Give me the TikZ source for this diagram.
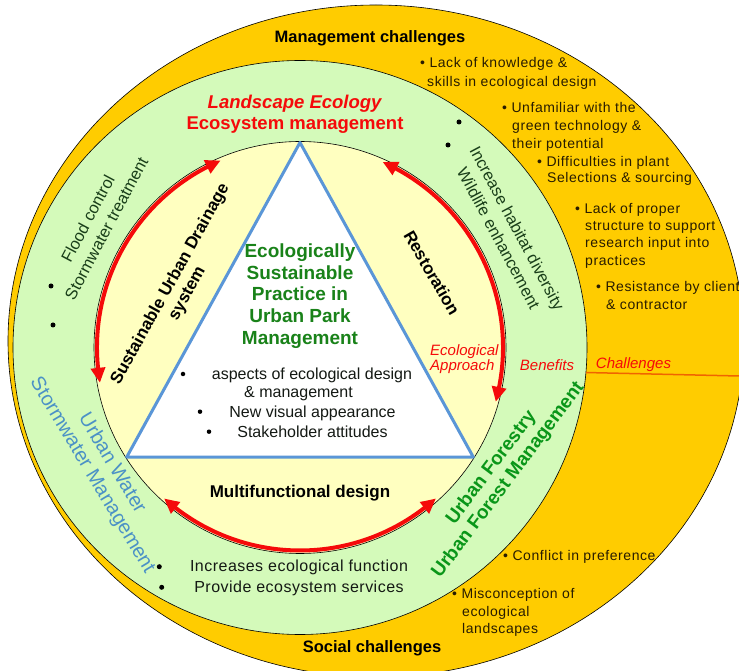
\documentclass[tikz,border=0pt]{standalone}
\usepackage{fontspec}
\setmainfont{Liberation Sans}
\usetikzlibrary{arrows.meta,bending}
\definecolor{orangeC}{RGB}{255,204,0}
\definecolor{lgreen}{RGB}{212,250,186}
\definecolor{pyellow}{RGB}{255,255,192}
\definecolor{triblue}{RGB}{90,150,215}
\definecolor{redC}{RGB}{245,10,10}
\definecolor{centergreen}{RGB}{25,130,25}
\definecolor{forestgreen}{RGB}{10,150,25}
\definecolor{darkgreentext}{RGB}{25,62,25}
\definecolor{waterblue}{RGB}{75,145,198}
\definecolor{challine}{RGB}{240,100,0}
\definecolor{bandtext}{RGB}{40,28,0}
\definecolor{bodytext}{RGB}{20,25,20}
\tikzset{
  band/.style={font=\fontsize{14}{17}\selectfont\addfontfeature{LetterSpace=4}, text=bandtext, anchor=base west, inner sep=0pt},
  trib/.style={font=\fontsize{16}{19}\selectfont, text=bodytext, anchor=base, inner sep=0pt},
  gband/.style={font=\fontsize{16}{19}\selectfont\addfontfeature{LetterSpace=3}, text=bodytext, anchor=base, inner sep=0pt},
  heading/.style={font=\bfseries\fontsize{16.5}{19}\selectfont, text=black, inner sep=0pt},
  redital/.style={font=\itshape\fontsize{15}{15}\selectfont, text=redC, inner sep=0pt},
  dot/.style={circle, fill=black, inner sep=0pt, minimum size=5pt},
  redarc/.style={draw=redC, line width=4pt, arrows={Triangle[length=15pt,width=14pt,bend]-Triangle[length=15pt,width=14pt,bend]}},
  tri/.style={draw=triblue, line width=3pt, fill=white, line join=round}
}
\begin{document}
\begin{tikzpicture}[x=1pt,y=1pt]
\useasboundingbox (0,0) rectangle (739,670);
\clip (0,0) rectangle (739,670);
% outer orange band
\draw[fill=orangeC, line width=0.6pt] (376,329) ellipse [x radius=368, y radius=336];
% rings
\node[circle, draw=black, line width=0.6pt, fill=lgreen, minimum size=574pt, inner sep=0pt, outer sep=0pt] (ring) at (300,322.5) {};
\node[circle, draw=black, line width=0.6pt, fill=pyellow, minimum size=412pt, inner sep=0pt, outer sep=0pt] (core) at (300,322.5) {};
% challenges divider
\coordinate (chEnd) at (739,294);
\draw[challine, line width=1.5pt] (ring.-5.7) -- (chEnd);
% triangle
\coordinate (tA) at ([shift={(90:205)}]core.center);
\coordinate (tB) at ([shift={(212.3:205)}]core.center);
\coordinate (tC) at ([shift={(327.7:205)}]core.center);
\draw[tri] (tA) -- (tB) -- (tC) -- cycle;
% red arrows
\draw[redarc] ([shift={(113:203)}]core.center) arc[start angle=113, end angle=190, radius=203];
\draw[redarc] ([shift={(66:203)}]core.center) arc[start angle=66, end angle=-15.5, radius=203];
\draw[redarc] ([shift={(228:203)}]core.center) arc[start angle=228, end angle=312, radius=203];
% headings in orange band
\node[heading] (mc) at (370,632) {Management challenges};
\node[heading] (sc) at (372,22) {Social challenges};
% landscape ecology
\node[font=\bfseries\fontsize{18.5}{21.5}\selectfont, text=redC, align=center, inner sep=0pt] (le) at (295,555.5) {\textit{Landscape Ecology}\\Ecosystem management};
% centre title
\node[font=\bfseries\fontsize{19}{21.7}\selectfont, text=centergreen, align=center, inner sep=0pt] (title) at (300,374) {Ecologically\\Sustainable\\Practice in\\Urban Park\\Management};
% triangle bullets
\node[dot, minimum size=4.5pt] (d1) at (183,296) {};
\node[dot, minimum size=4.5pt] (d2) at (200,258.3) {};
\node[dot, minimum size=4.5pt] (d3) at (209,238.3) {};
\node[trib] (t1) at (312,290.5) {aspects of ecological design};
\node[trib] (t2) at (298.5,272.5) {\& management};
\node[trib] (t3) at (312.5,252.5) {New visual appearance};
\node[trib] (t4) at (312.5,232.5) {Stakeholder attitudes};
% multifunctional
\node[font=\bfseries\fontsize{17}{20}\selectfont, inner sep=0pt] (mf) at (300,177) {Multifunctional design};
% green band bottom
\node[dot] (d4) at (159.3,103.3) {};
\node[dot] (d5) at (161.7,82.7) {};
\node[gband] (g1) at (299,98.5) {Increases ecological function};
\node[gband] (g2) at (299,77.5) {Provide ecosystem services};
% rotated labels
\node[font=\bfseries\fontsize{17}{19.5}\selectfont, align=center, rotate=61, inner sep=0pt] (suds) at (179,381) {Sustainable Urban Drainage\\system};
\node[font=\bfseries\fontsize{17}{20}\selectfont, rotate=-60, inner sep=0pt] (rest) at (432,397) {Restoration};
\node[font=\fontsize{16.5}{21}\selectfont, text=darkgreentext, align=center, rotate=62, inner sep=0pt] (flood) at (97,446.5) {Flood control\\Stormwater treatment};
\node[dot] (d6) at (51,384) {};
\node[dot] (d7) at (53,345) {};
\node[font=\fontsize{16.5}{21}\selectfont, text=darkgreentext, align=center, rotate=-62, inner sep=0pt] (habitat) at (508,437) {Increase habitat diversity\\Wildlife enhancement};
\node[dot] (d8) at (459,548) {};
\node[dot] (d9) at (448,525) {};
\node[font=\fontsize{20}{23}\selectfont, text=waterblue, align=center, rotate=-59, inner sep=0pt] (water) at (102,200.5) {Urban Water\\Stormwater Management};
\node[font=\bfseries\fontsize{19}{21}\selectfont, text=forestgreen, align=center, rotate=53, inner sep=0pt] (forest) at (500,196) {Urban Forestry\\Urban Forest Management};
% red italic labels
\node[redital, align=left, anchor=west] (approach) at (430,311) {Ecological\\Approach};
\node[redital] (benefits) at (547,305) {Benefits};
\node[redital] (chal) at (633.5,305) {Challenges};
% management challenges list
\node[band] (b1a) at (420,602) {\textbullet\ Lack of knowledge \&};
\node[band] (b1b) at (427,583) {skills in ecological design};
\node[band] (b2a) at (502,557) {\textbullet\ Unfamiliar with the};
\node[band] (b2b) at (512,539) {green technology \&};
\node[band] (b2c) at (512,521) {their potential};
\node[band] (b3a) at (537,503) {\textbullet\ Difficulties in plant};
\node[band] (b3b) at (547,487) {Selections \& sourcing};
\node[band] (b4a) at (575,456) {\textbullet\ Lack of proper};
\node[band] (b4b) at (585,439) {structure to support};
\node[band] (b4c) at (585,422) {research input into};
\node[band] (b4d) at (585,404) {practices};
\node[band] (b5a) at (596,378) {\textbullet\ Resistance by client};
\node[band] (b5b) at (606,360) {\& contractor};
% social challenges list
\node[band] (b6a) at (503,110) {\textbullet\ Conflict in preference};
\node[band] (b7a) at (452,72) {\textbullet\ Misconception of};
\node[band] (b7b) at (462,54) {ecological};
\node[band] (b7c) at (462,37) {landscapes};
\end{tikzpicture}
\end{document}
